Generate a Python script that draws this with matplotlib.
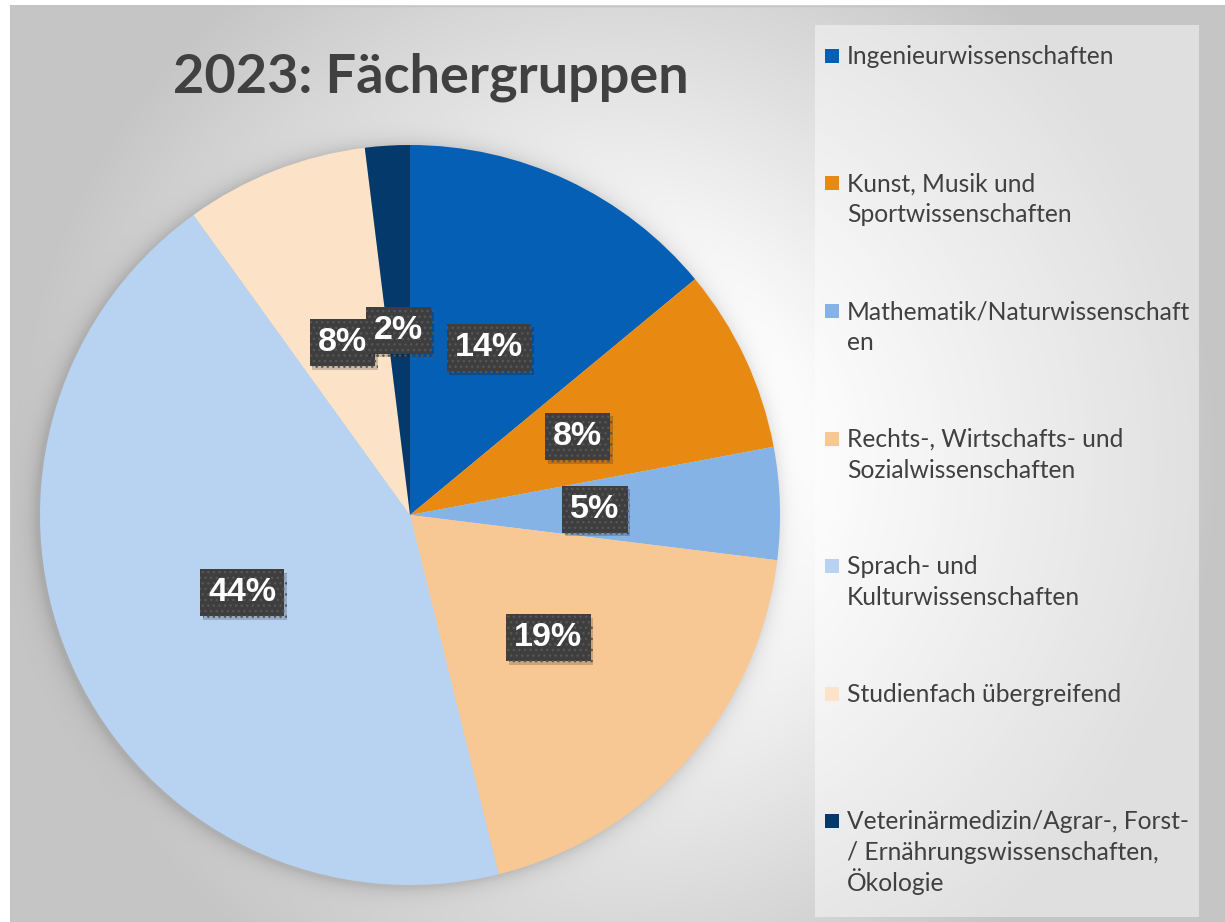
import matplotlib
matplotlib.use("Agg")
import matplotlib.pyplot as plt
import matplotlib.patheffects as pe
from matplotlib.patches import Rectangle
import numpy as np

# data
labels = ["Ingenieurwissenschaften",
          "Kunst, Musik und\nSportwissenschaften",
          "Mathematik/Naturwissenschaft\nen",
          "Rechts-, Wirtschafts- und\nSozialwissenschaften",
          "Sprach- und\nKulturwissenschaften",
          "Studienfach übergreifend",
          "Veterinärmedizin/Agrar-, Forst-\n/ Ernährungswissenschaften,\nÖkologie"]
shares = [14.0, 8.05, 4.9, 19.2, 43.9, 8.0, 1.95]
colors = ["#055FB4", "#E88A12", "#86B3E5", "#F7C894", "#B8D3F2", "#FCE3C8", "#033A6B"]
title = "2023: Fächergruppen"

W, H = 1225, 922
fig = plt.figure(figsize=(W / 100, H / 100), dpi=100)

# pie axes (square, pie radius 1)
pie_left, pie_top, pie_size = 40, 145, 740
ax = fig.add_axes([pie_left / W, 1 - (pie_top + pie_size) / H, pie_size / W, pie_size / H])
cx, cy, R = pie_left + pie_size / 2, pie_top + pie_size / 2, pie_size / 2

# background: radial gradient + soft shadow of the pie
bg = fig.add_axes([0, 0, 1, 1], zorder=-10)
yy, xx = np.mgrid[0:H, 0:W] + 0.5
d = np.hypot(xx - 617, yy - 464)
t = np.clip((d - 170) / 430, 0, 1)
g = 1 - 0.225 * t
ds = np.hypot(xx - (cx - 3), yy - (cy + 2)) - R
sh = np.where(ds > 0, np.exp(-ds / 9.0), 1.0)
g = g * (1 - 0.14 * sh)
g[:, :10] = 1.0
g[:6, :] = 1.0
bg.imshow(np.dstack([g, g, g]), extent=[0, W, H, 0], interpolation="bilinear")
bg.plot([10.5, 10.5], [6, H], color="#c4c4c4", lw=1)
bg.plot([10, W], [6.5, 6.5], color="#c4c4c4", lw=1)
bg.set_xlim(0, W)
bg.set_ylim(H, 0)
bg.axis("off")

wedges, texts, autotexts = ax.pie(
    shares, colors=colors, startangle=90, counterclock=False,
    autopct="%1.0f%%", pctdistance=0.5,
    wedgeprops=dict(linewidth=0),
    textprops=dict(color="white", fontsize=24.5, fontweight="bold",
                   family="Liberation Sans"))
ax.set_xlim(-1, 1)
ax.set_ylim(-1, 1)
ax.set_aspect("equal")
ax.axis("off")

for at in autotexts:
    at.set_bbox(dict(boxstyle="square,pad=0.24", fc="#3e3e3e", ec="#565656",
                     lw=0, hatch="..."))
    at.get_bbox_patch().set_path_effects(
        [pe.SimplePatchShadow(offset=(2, -2.5), shadow_rgbFace="#000000", alpha=0.18),
         pe.Normal()])

# title
fig.text(430.5 / W, 1 - 93 / H, title, ha="center", va="baseline",
         fontsize=39, fontweight="bold", color="#404040", family="Lato")

# legend box
fig.patches.append(Rectangle((815 / W, 1 - 917 / H), (1199 - 815) / W, (917 - 25) / H,
                             transform=fig.transFigure, fc="white", alpha=0.45,
                             ec="none", zorder=-5))
step = 127.5
line_h = 31
for i, (lab, col) in enumerate(zip(labels, colors)):
    base = 64 + i * step
    fig.patches.append(Rectangle((825 / W, 1 - (base - 1) / H), 14 / W, 14 / H,
                                 transform=fig.transFigure, fc=col, ec="none"))
    for k, line in enumerate(lab.split("\n")):
        fig.text(847 / W, 1 - (base + k * line_h) / H, line, ha="left", va="baseline",
                 fontsize=17.7, color="#404040", family="Lato")

fig.savefig("out.png", dpi=100)
